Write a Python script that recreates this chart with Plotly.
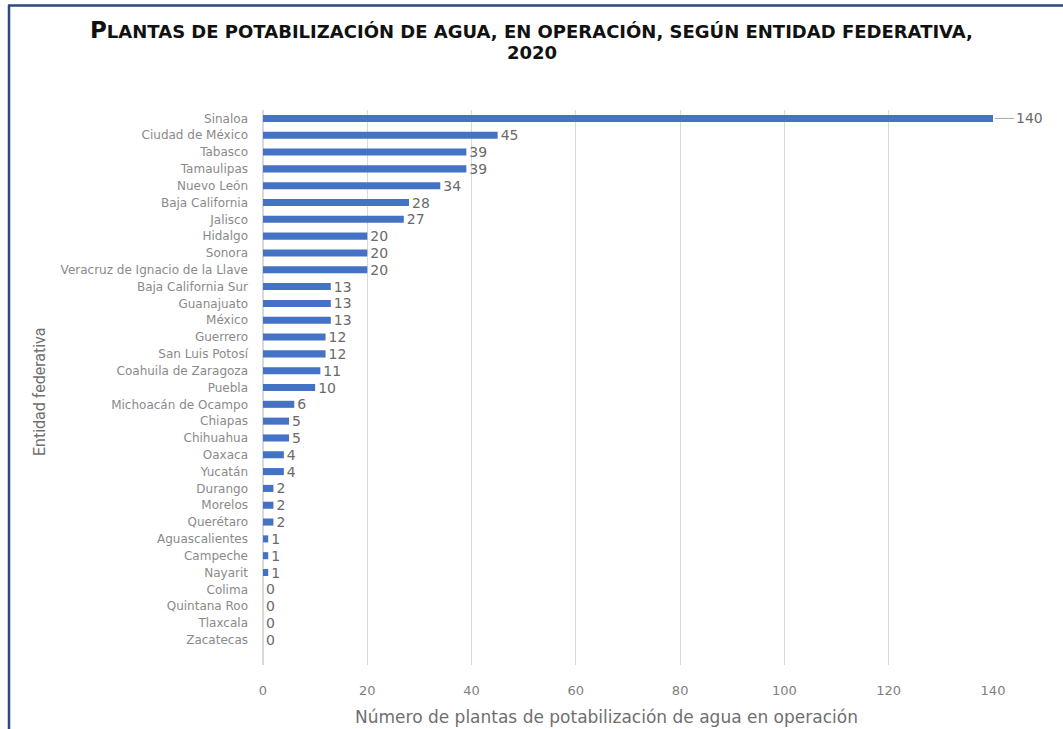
import plotly.graph_objects as go

# Plantas de potabilización en operación por entidad federativa (2020)
entidades = [
    "Sinaloa", "Ciudad de México", "Tabasco", "Tamaulipas", "Nuevo León",
    "Baja California", "Jalisco", "Hidalgo", "Sonora",
    "Veracruz de Ignacio de la Llave", "Baja California Sur", "Guanajuato",
    "México", "Guerrero", "San Luis Potosí", "Coahuila de Zaragoza", "Puebla",
    "Michoacán de Ocampo", "Chiapas", "Chihuahua", "Oaxaca", "Yucatán",
    "Durango", "Morelos", "Querétaro", "Aguascalientes", "Campeche", "Nayarit",
    "Colima", "Quintana Roo", "Tlaxcala", "Zacatecas",
]
plantas = [140, 45, 39, 39, 34, 28, 27, 20, 20, 20, 13, 13, 13, 12, 12, 11, 10,
           6, 5, 5, 4, 4, 2, 2, 2, 1, 1, 1, 0, 0, 0, 0]
x_ticks = [0, 20, 40, 60, 80, 100, 120, 140]

W, H = 1063, 729
L, R, T, B = 263, 70, 110, 64
plot_w = W - L - R
plot_h = H - T - B

LABEL_FONT = "DejaVu Sans, Verdana, sans-serif"
FRAME = "#2E4A7D"


def px_x(px):
    return (px - L) / plot_w


def px_y(py):
    return (H - B - py) / plot_h


# the largest bar gets its label through a leader line instead of the trace text
max_i = plantas.index(max(plantas))
bar_text = ["" if i == max_i else str(v) for i, v in enumerate(plantas)]

fig = go.Figure()
fig.add_trace(go.Bar(
    x=plantas,
    y=entidades,
    orientation="h",
    marker=dict(color="#4472C4", line=dict(width=0)),
    width=0.42,
    text=bar_text,
    textposition="outside",
    textfont=dict(family=LABEL_FONT, size=14, color="#6a6a6a"),
    constraintext="none",
    cliponaxis=False,
    hoverinfo="x+y",
))

title_font = dict(family="DejaVu Sans, Arial, sans-serif", size=18, color="#111111")
title_line1 = ("<b><span style='font-size:23px'>P</span>LANTAS DE POTABILIZACIÓN DE AGUA, "
               "EN OPERACIÓN, SEGÚN ENTIDAD FEDERATIVA,</b>")
title_line2 = "<b>2020</b>"

fig.update_layout(
    width=W,
    height=H,
    margin=dict(l=L, r=R, t=T, b=B, pad=0, autoexpand=False),
    paper_bgcolor="white",
    plot_bgcolor="white",
    showlegend=False,
    xaxis=dict(
        range=[0, 140],
        tickvals=x_ticks,
        ticktext=[str(v) for v in x_ticks],
        showgrid=True,
        gridcolor="#d9d9d9",
        gridwidth=1,
        zeroline=True,
        zerolinecolor="#d9d9d9",
        showline=False,
        ticks="",
        ticklabelstandoff=16,
        tickfont=dict(family=LABEL_FONT, size=13, color="#7f7f7f"),
        automargin=False,
        fixedrange=True,
    ),
    yaxis=dict(
        categoryorder="array",
        categoryarray=entidades,
        range=[32.5, -0.5],
        showgrid=False,
        showline=False,
        ticks="",
        ticklabelstandoff=14,
        tickfont=dict(family=LABEL_FONT, size=12, color="#8a8a8a"),
        automargin=False,
        fixedrange=True,
    ),
    annotations=[
        dict(text=title_line1, x=px_x(531.5), y=px_y(30),
             xref="paper", yref="paper", xanchor="center", yanchor="middle",
             showarrow=False, font=title_font),
        dict(text=title_line2, x=px_x(531.5), y=px_y(53),
             xref="paper", yref="paper", xanchor="center", yanchor="middle",
             showarrow=False, font=title_font),
        dict(
            text="Número de plantas de potabilización de agua en operación",
            x=px_x(606), y=px_y(717),
            xref="paper", yref="paper",
            xanchor="center", yanchor="middle",
            showarrow=False,
            font=dict(family=LABEL_FONT, size=17, color="#6f6f6f"),
        ),
        dict(
            text="Entidad federativa",
            textangle=-90,
            x=px_x(40), y=px_y(392),
            xref="paper", yref="paper",
            xanchor="center", yanchor="middle",
            showarrow=False,
            font=dict(family="Liberation Sans Narrow, Roboto, sans-serif", size=16, color="#6f6f6f"),
        ),
        dict(
            text=str(plantas[max_i]),
            x=plantas[max_i], y=entidades[max_i],
            xref="x", yref="y",
            showarrow=True,
            arrowhead=0,
            arrowwidth=1,
            arrowcolor="#a6a6a6",
            ax=36, ay=0,
            standoff=2,
            font=dict(family=LABEL_FONT, size=14, color="#6a6a6a"),
        ),
    ],
    shapes=[
        # frame: left and top edges
        dict(type="line", xref="paper", yref="paper",
             x0=px_x(9), x1=px_x(9), y0=px_y(5), y1=px_y(H + 2),
             line=dict(color=FRAME, width=2.5)),
        dict(type="line", xref="paper", yref="paper",
             x0=px_x(8), x1=px_x(W + 2), y0=px_y(5.5), y1=px_y(5.5),
             line=dict(color=FRAME, width=2.5)),
    ],
)

fig.write_html("out.html")
